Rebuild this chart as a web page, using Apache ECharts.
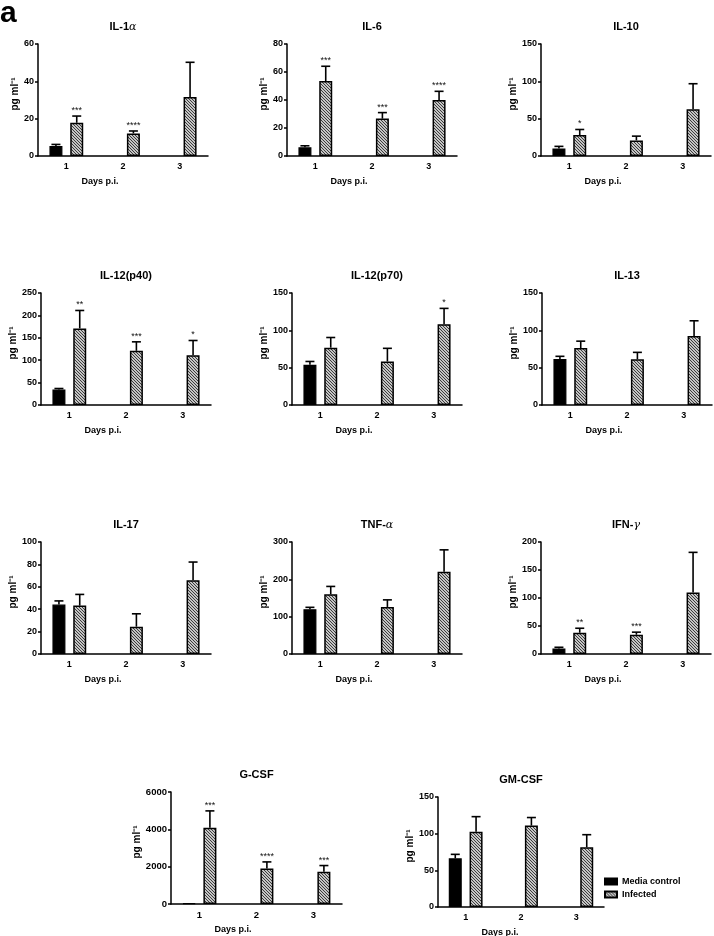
<!DOCTYPE html>
<html><head><meta charset="utf-8">
<script src="https://cdn.jsdelivr.net/npm/echarts@6/dist/echarts.min.js"></script>
<style>html,body{margin:0;padding:0;background:#fff}#c{width:714px;height:936px}</style>
</head><body><div id="c"></div>
<script>
// ---------- data ----------
const days = ['1', '2', '3'];
const cytokines = ['IL-1α', 'IL-6', 'IL-10', 'IL-12(p40)', 'IL-12(p70)', 'IL-13', 'IL-17', 'TNF-α', 'IFN-γ', 'G-CSF', 'GM-CSF'];
const mediaMean = [
  [5.4, null, null], [6.2, null, null], [10.2, null, null], [34.6, null, null],
  [54, null, null], [61.7, null, null], [44.1, null, null], [120, null, null],
  [10, null, null], [40, null, null], [66.4, null, null]
];
const mediaSEM = [
  [0.8, null, null], [1.1, null, null], [2.7, null, null], [2.2, null, null],
  [4.3, null, null], [3.5, null, null], [3.3, null, null], [5, null, null],
  [2, null, null], [0, null, null], [5.4, null, null]
];
const infectedMean = [
  [17.8, 12.1, 31.6], [53.5, 26.7, 40], [28, 20.9, 62.6], [171, 121, 111],
  [76.8, 58.3, 108.3], [76.2, 61.2, 92.5], [43.2, 24.4, 65.9], [160, 126, 220],
  [38, 34.4, 109.7], [4083, 1900, 1722], [102.7, 111, 81.4]
];
const infectedSEM = [
  [3.6, 1.3, 18.6], [10.6, 4.3, 6.2], [7.5, 5.7, 34.2], [40, 20, 33],
  [13.6, 17.6, 21.1], [9.3, 9.3, 20.3], [10, 11.5, 16.2], [21, 19, 59],
  [8, 4.6, 71.8], [905, 355, 338], [20.5, 11, 17.2]
];
const infectedStars = [
  ['***', '****', ''], ['***', '***', '****'], ['*', '', ''], ['**', '***', '*'],
  ['', '', '*'], ['', '', ''], ['', '', ''], ['', '', ''],
  ['**', '***', ''], ['***', '****', '***'], ['', '', '']
];
const yMax = [60, 80, 150, 250, 150, 150, 100, 300, 200, 6000, 150];
const yStep = [20, 20, 50, 50, 50, 50, 20, 100, 50, 2000, 50];
const seriesNames = ['Media control', 'Infected'];
const xTitle = 'Days p.i.';
const yTitle = 'pg ml⁻¹';

// ---------- layout ----------
const L = [38, 287, 541, 41, 292, 542, 41, 292, 541, 171, 438];
const T = [44, 44, 44, 293, 293, 293, 542, 542, 542, 792, 797];
const W = [170, 170, 170, 170, 170, 170, 170, 170, 170, 171, 166];
const H = [112, 112, 112, 112, 112, 112, 112, 112, 112, 112, 110];
const NG = [17, 14, 18, 19, 19, 19, 21, 20, 18, 26, 17];
const TICKFS = [9, 9, 9, 9, 9, 9, 9, 9, 9, 9.5, 9];
const FONT = '"Liberation Sans", Arial, sans-serif';
const BAR_W = 13, GAP = 0.6;
const OFF = (BAR_W + BAR_W * GAP) / 2;

function hatch() {
  const n = 3;
  const c = document.createElement('canvas');
  c.width = n; c.height = n;
  const ctx = c.getContext('2d');
  ctx.fillStyle = '#fff'; ctx.fillRect(0, 0, n, n);
  ctx.strokeStyle = '#333'; ctx.lineWidth = 1.1;
  ctx.beginPath();
  ctx.moveTo(-1, -1); ctx.lineTo(n + 1, n + 1);
  ctx.moveTo(-1, n - 1); ctx.lineTo(1, n + 1);
  ctx.moveTo(n - 1, -1); ctx.lineTo(n + 1, 1);
  ctx.stroke();
  return c;
}
const hatchFill = { image: hatch(), repeat: 'repeat' };

const grids = [], xAxes = [], yAxes = [], series = [], graphics = [];

cytokines.forEach((name, i) => {
  grids.push({ left: L[i], top: T[i], width: W[i], height: H[i] });
  xAxes.push({
    type: 'category', gridIndex: i, data: days,
    axisLine: { lineStyle: { color: '#000', width: 1.5 } },
    axisTick: { alignWithLabel: true, length: 3, lineStyle: { color: '#000', width: 1.5 } },
    axisLabel: { color: '#000', fontSize: TICKFS[i], fontWeight: 'bold', fontFamily: FONT, margin: 6 }
  });
  yAxes.push({
    type: 'value', gridIndex: i, min: 0, max: yMax[i], interval: yStep[i],
    splitLine: { show: false },
    axisLine: { show: true, lineStyle: { color: '#000', width: 1.5 } },
    axisTick: { show: true, length: 3, lineStyle: { color: '#000', width: 1.5 } },
    axisLabel: { color: '#000', fontSize: TICKFS[i], fontWeight: 'bold', fontFamily: FONT, margin: 4,
      formatter: v => String(v) },
    name: yTitle, nameLocation: 'middle', nameRotate: 90, nameGap: NG[i],
    nameTextStyle: { color: '#000', fontSize: 10, fontWeight: 'bold', fontFamily: FONT, padding: [0, 0, 0, 12] }
  });
  series.push({
    type: 'bar', name: seriesNames[0], xAxisIndex: i, yAxisIndex: i,
    data: mediaMean[i], barWidth: BAR_W, barGap: (GAP * 100) + '%',
    itemStyle: { color: '#000', borderColor: '#000', borderWidth: 1.2 },
    silent: true
  });
  series.push({
    type: 'bar', name: seriesNames[1], xAxisIndex: i, yAxisIndex: i,
    data: infectedMean[i], barWidth: BAR_W, barGap: (GAP * 100) + '%',
    itemStyle: { color: hatchFill, borderColor: '#000', borderWidth: 1.5 },
    silent: true
  });
  const errData = [];
  for (let k = 0; k < days.length; k++) {
    if (mediaMean[i][k] != null) errData.push([k, mediaMean[i][k], mediaSEM[i][k], 0, '']);
    if (infectedMean[i][k] != null) errData.push([k, infectedMean[i][k], infectedSEM[i][k], 1, infectedStars[i][k]]);
  }
  series.push({
    type: 'custom', xAxisIndex: i, yAxisIndex: i, silent: true, z: 5,
    data: errData,
    renderItem: (params, api) => {
      const item = errData[params.dataIndex];
      const k = item[0], m = item[1], s = item[2], g = item[3], st = item[4];
      const p0 = api.coord([k, m]);
      const p1 = api.coord([k, m + s]);
      const x = p0[0] + (g === 0 ? -OFF : OFF);
      const ch = [];
      if (s > 0) {
        ch.push({ type: 'line', shape: { x1: x, y1: p0[1], x2: x, y2: p1[1] }, style: { stroke: '#000', lineWidth: 1.6 } });
        ch.push({ type: 'line', shape: { x1: x - 4.5, y1: p1[1], x2: x + 4.5, y2: p1[1] }, style: { stroke: '#000', lineWidth: 1.6 } });
      }
      if (st) {
        ch.push({ type: 'text', x: x, y: p1[1] - 1, style: { text: st, textAlign: 'center', textVerticalAlign: 'bottom', fill: '#111', font: '9px ' + FONT } });
      }
      return { type: 'group', children: ch };
    }
  });
  // panel title
  const rich = name.replace(/([αγ])/g, '{g|$1}');
  graphics.push({
    type: 'text', x: L[i] + W[i] / 2, y: T[i] - 16.7,
    style: {
      text: rich, textAlign: 'center', textVerticalAlign: 'middle',
      font: 'bold 11px ' + FONT, fill: '#000',
      rich: { g: { fontStyle: 'italic', fontWeight: 'normal', fontSize: 11, fontFamily: '"DejaVu Serif", serif', fill: '#000' } }
    }
  });
  // x-axis title
  graphics.push({
    type: 'text', x: L[i] + 62, y: T[i] + H[i] + 25.7,
    style: { text: xTitle, textAlign: 'center', textVerticalAlign: 'middle', font: 'bold 9px ' + FONT, fill: '#000' }
  });
});

graphics.push({
  type: 'text', x: 0, y: 14,
  style: { text: 'a', textAlign: 'left', textVerticalAlign: 'middle', font: 'bold 30px ' + FONT, fill: '#000' }
});

const chart = echarts.init(document.getElementById('c'), null, { renderer: 'canvas' });
chart.setOption({
  animation: false,
  backgroundColor: '#fff',
  grid: grids, xAxis: xAxes, yAxis: yAxes, series: series,
  legend: {
    data: seriesNames, orient: 'vertical', left: 604, top: 877, padding: 0,
    itemWidth: 12, itemHeight: 6, itemGap: 4, icon: 'rect', selectedMode: false,
    textStyle: { color: '#000', fontSize: 9, fontWeight: 'bold', fontFamily: FONT }
  },
  graphic: graphics
});
</script>
</body></html>
